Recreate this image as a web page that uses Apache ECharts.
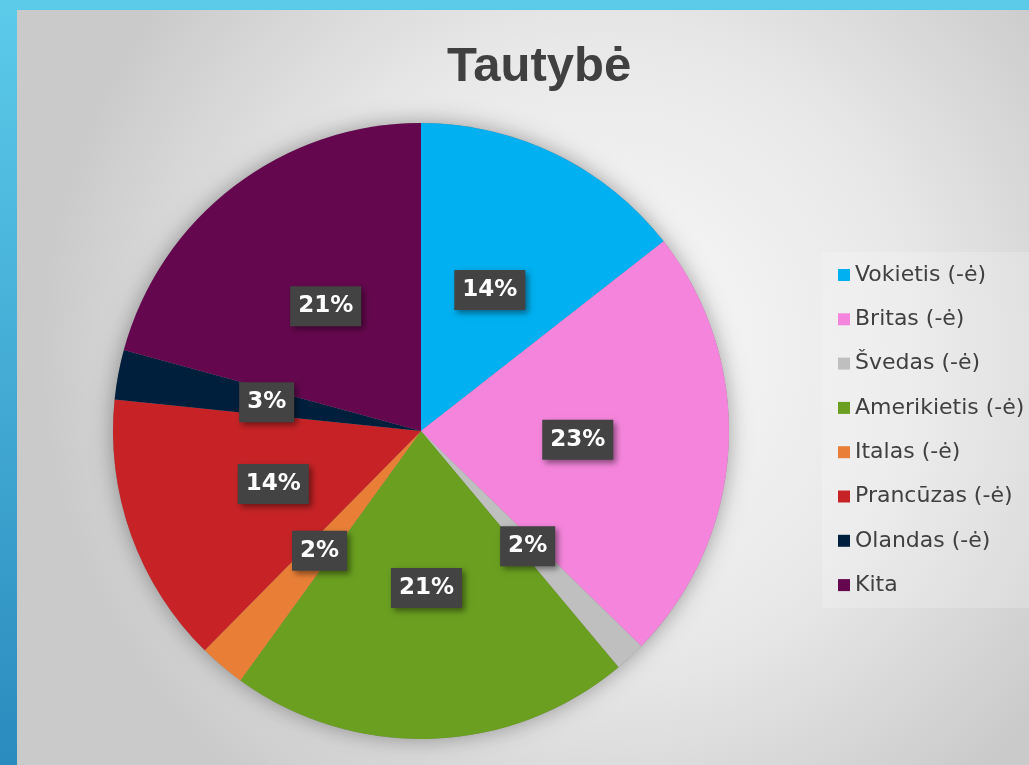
<!DOCTYPE html>
<html>
<head>
<meta charset="utf-8">
<script src="https://cdn.jsdelivr.net/npm/echarts@6/dist/echarts.min.js"></script>
<style>html,body{margin:0;padding:0;}#c{width:1029px;height:765px;}</style>
</head>
<body>
<div id="c"></div>
<script>
var categories = ['Vokietis (-ė)', 'Britas (-ė)', 'Švedas (-ė)', 'Amerikietis (-ė)', 'Italas (-ė)', 'Prancūzas (-ė)', 'Olandas (-ė)', 'Kita'];
var values = [14.4, 22.8, 1.6, 21.0, 2.4, 14.2, 2.6, 20.7];
var colors = ['#00B0F0', '#F585DC', '#BFBFBF', '#6A9F20', '#E97F37', '#C72326', '#001F3D', '#65074E'];
var titleText = 'Tautybė';

var chart = echarts.init(document.getElementById('c'));
var data = categories.map(function (n, i) {
  return { name: n, value: values[i], itemStyle: { color: colors[i] } };
});
chart.setOption({
  animation: false,
  graphic: [
    { type: 'rect', z: -10, silent: true, shape: { x: 0, y: 0, width: 1029, height: 765 },
      style: { fill: { type: 'linear', x: 0, y: 0, x2: 0, y2: 1, colorStops: [{ offset: 0, color: '#5CCBEA' }, { offset: 1, color: '#2A8BBE' }] } } },
    { type: 'rect', z: -9, silent: true, shape: { x: 17, y: 10, width: 1012, height: 755 },
      style: { fill: { type: 'radial', x: 0.58, y: 0.45, r: 0.75, colorStops: [{ offset: 0, color: '#FAFAFA' }, { offset: 0.55, color: '#E8E8E8' }, { offset: 1, color: '#CACACA' }] } } }
  ],
  title: {
    text: titleText,
    left: 442, top: 38,
    textStyle: { fontFamily: 'Liberation Sans', fontWeight: 'bold', fontSize: 49, color: '#404040' }
  },
  legend: {
    orient: 'vertical',
    left: 822, top: 252,
    padding: [12, 40, 12, 16],
    backgroundColor: 'rgba(255,255,255,0.2)',
    itemWidth: 12, itemHeight: 12, itemGap: 22.3,
    icon: 'rect',
    data: categories,
    textStyle: { fontFamily: 'DejaVu Sans', fontSize: 22, color: '#404040' }
  },
  series: [
    {
      type: 'pie', silent: true, z: 1,
      center: [421, 431], radius: 308,
      label: { show: false }, labelLine: { show: false },
      itemStyle: { color: '#888', shadowBlur: 22, shadowColor: 'rgba(0,0,0,0.35)' },
      data: [{ value: 1, name: '_bg' }]
    },
    {
      type: 'pie', z: 2,
      center: [421, 431], radius: 308,
      startAngle: 90, clockwise: true,
      data: data,
      itemStyle: { borderWidth: 0 },
      label: {
        show: true, position: 'inside',
        formatter: function (p) { return Math.round(p.percent) + '%'; },
        fontFamily: 'DejaVu Sans', fontWeight: 'bold', fontSize: 23, color: '#FFFFFF',
        backgroundColor: '#434343',
        padding: [9, 8, 8, 8],
        shadowBlur: 6, shadowOffsetX: 3, shadowOffsetY: 3, shadowColor: 'rgba(0,0,0,0.45)'
      },
      labelLine: { show: false }
    }
  ]
});
</script>
</body>
</html>
